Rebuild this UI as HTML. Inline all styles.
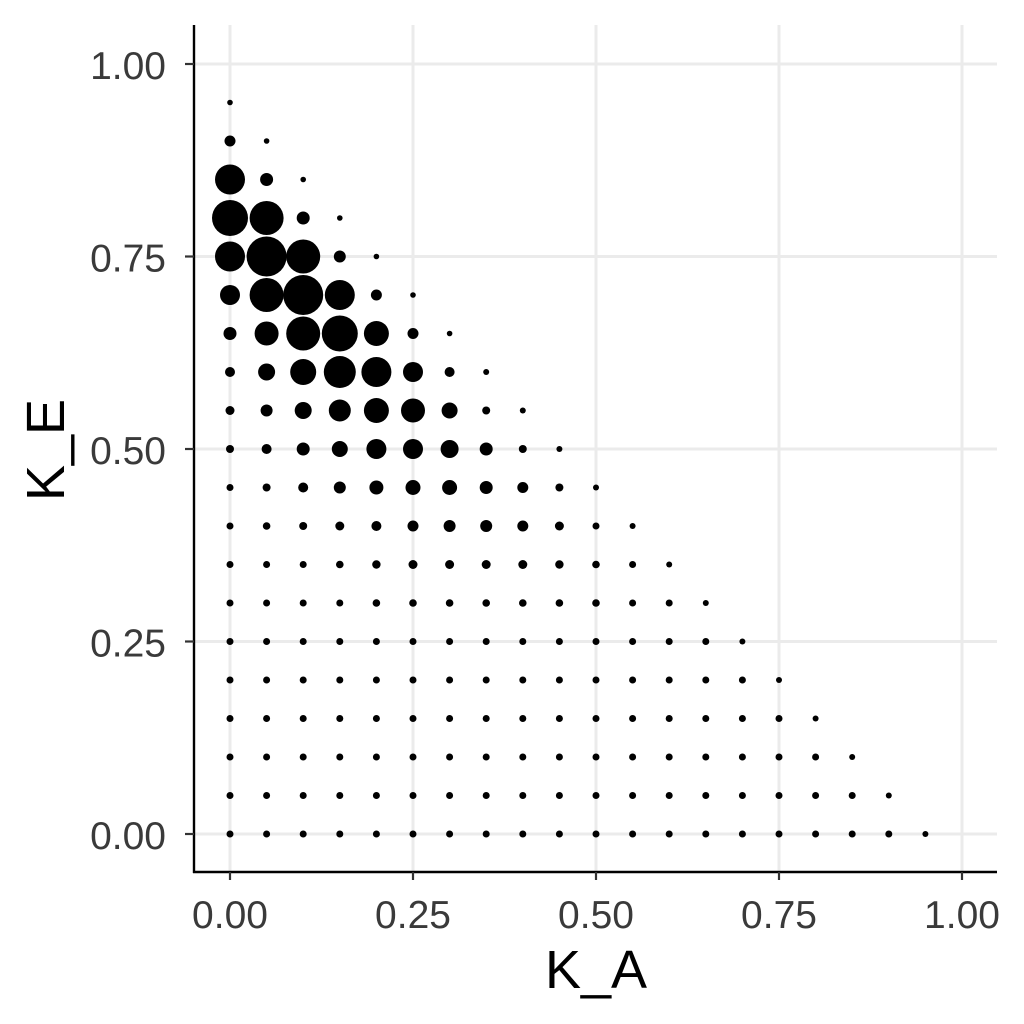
<!DOCTYPE html>
<html><head><meta charset="utf-8"><style>
html,body{margin:0;padding:0;background:#fff}
svg{display:block;font-family:"Liberation Sans",sans-serif}
</style></head><body>
<svg id="c" width="1024" height="1024" viewBox="0 0 1024 1024" xmlns="http://www.w3.org/2000/svg">
<g id="grid"></g>
<g id="pts"></g>
<g id="axes"></g>
</svg>
<script>
const xTicks=[0,0.25,0.5,0.75,1];
const yTicks=[0,0.25,0.5,0.75,1];
const tickLabels=["0.00","0.25","0.50","0.75","1.00"];
const step=0.05;
// point sizes (radius-like), rows from K_E=0.95 down to 0; each row lists K_A=0,0.05,...
const rowE=[0.95,0.90,0.85,0.80,0.75,0.70,0.65,0.60,0.55,0.50,0.45,0.40,0.35,0.30,0.25,0.20,0.15,0.10,0.05,0.00];
const sizes=[
[2.8],
[5.5,2.8],
[15,6.5,2.8],
[18,17,6.5,2.8],
[15,20,17,6,2.8],
[10,17,20,15,5.5,2.8],
[6.5,12,17,18,12.5,5.5,2.8],
[5,8.5,13,16,15,10,5,3],
[4.5,6,8.5,11,12.5,12,8,4,3],
[4,5,6.5,8,10,10,9,6.5,4,3],
[3.5,4,5,6,7,7.5,7.5,6.5,5.5,4,3],
[3.5,3.8,4,4.5,5,5.5,6,6,5.5,4.5,3.5,3],
[3.5,3.5,3.5,3.8,4.2,4.5,4.5,4.5,4.5,4.2,3.8,3.5,3],
[3.5,3.5,3.5,3.5,3.8,3.8,3.8,3.8,3.8,3.8,3.8,3.5,3.5,3],
[3.5,3.5,3.5,3.5,3.5,3.5,3.5,3.5,3.5,3.5,3.5,3.5,3.5,3.5,3],
[3.5,3.5,3.5,3.5,3.5,3.5,3.5,3.5,3.5,3.5,3.5,3.5,3.5,3.5,3.5,3],
[3.5,3.5,3.5,3.5,3.5,3.5,3.5,3.5,3.5,3.5,3.5,3.5,3.5,3.5,3.5,3.5,3],
[3.5,3.5,3.5,3.5,3.5,3.5,3.5,3.5,3.5,3.5,3.5,3.5,3.5,3.5,3.5,3.5,3.5,3],
[3.5,3.5,3.5,3.5,3.5,3.5,3.5,3.5,3.5,3.5,3.5,3.5,3.5,3.5,3.5,3.5,3.5,3.5,3],
[3.5,3.5,3.5,3.5,3.5,3.5,3.5,3.5,3.5,3.5,3.5,3.5,3.5,3.5,3.5,3.5,3.5,3.5,3.5,3]
];
const X=v=>230+v*732, Y=v=>834-v*770;
const NS="http://www.w3.org/2000/svg";
function mk(t,a,p){const e=document.createElementNS(NS,t);for(const k in a)e.setAttribute(k,a[k]);p.appendChild(e);return e;}
const grid=document.getElementById('grid'),pts=document.getElementById('pts'),axes=document.getElementById('axes');
xTicks.forEach(v=>{const l=mk('line',{x1:X(v),x2:X(v),y1:25,y2:872,stroke:'#ebebeb','stroke-width':3},grid);

});
yTicks.forEach(v=>{const l=mk('line',{x1:194,x2:997,y1:Y(v),y2:Y(v),stroke:'#ebebeb','stroke-width':3},grid);

});
rowE.forEach((e,i)=>{sizes[i].forEach((r,j)=>{const c=mk('circle',{cx:X(j*step),cy:Y(e),r:r,fill:'#000'},pts);

});});
mk('line',{x1:194,x2:194,y1:25,y2:873,stroke:'#000','stroke-width':2.4},axes);
mk('line',{x1:193,x2:997,y1:872,y2:872,stroke:'#000','stroke-width':2.4},axes);
xTicks.forEach((v,i)=>{mk('line',{x1:X(v),x2:X(v),y1:872,y2:880,stroke:'#333','stroke-width':2.2},axes);
const t=mk('text',{x:X(v),y:928,'text-anchor':'middle','font-size':39,fill:'#3a3a3a'},axes);t.textContent=tickLabels[i];

});
yTicks.forEach((v,i)=>{mk('line',{x1:185,x2:194,y1:Y(v),y2:Y(v),stroke:'#333','stroke-width':2.2},axes);
const t=mk('text',{x:166,y:Y(v)+15,'text-anchor':'end','font-size':39,fill:'#3a3a3a'},axes);t.textContent=tickLabels[i];

});
const xt=mk('text',{x:596,y:988,'text-anchor':'middle','font-size':54,fill:'#000'},axes);xt.textContent='K_A';


const yt=mk('text',{x:0,y:0,'text-anchor':'middle','font-size':54,fill:'#000',transform:'translate(64,450) rotate(-90)'},axes);yt.textContent='K_E';


</script>
</body></html>
